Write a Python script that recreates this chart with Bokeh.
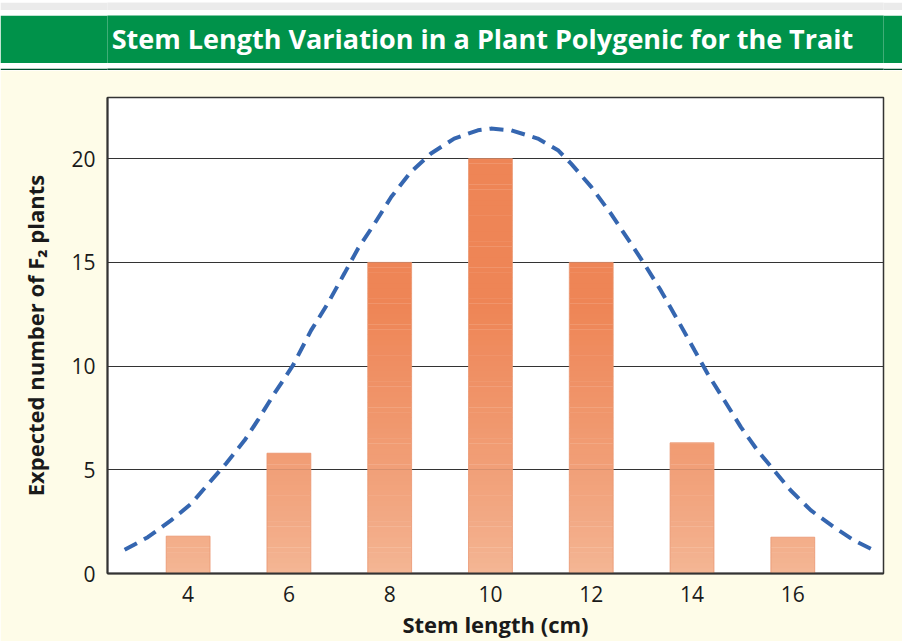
from bokeh.plotting import figure
from bokeh.layouts import column
from bokeh.models import Range1d, FixedTicker, ColumnDataSource
from bokeh.core.properties import value
from bokeh.embed import file_html
from bokeh.resources import INLINE

# ---------------- data ----------------
title_text = "Stem Length Variation in a Plant Polygenic for the Trait"
stem_length = [4, 6, 8, 10, 12, 14, 16]
expected_count = [1.8, 5.8, 15, 20, 15, 6.3, 1.75]

curve_x = [2.74, 3.20, 3.66, 4.06, 4.46, 4.75, 5.12, 5.38, 5.71, 6.08, 6.44, 6.77,
           7.10, 7.37, 7.70, 8.03, 8.42, 8.82, 9.28, 9.75, 10.01, 10.41, 10.94,
           11.34, 11.60, 12.00, 12.39, 12.79, 13.05, 13.38, 13.72, 14.05, 14.31,
           14.64, 14.97, 15.30, 15.63, 15.96, 16.36, 16.82, 17.22, 17.62]
curve_y = [1.14, 1.75, 2.56, 3.36, 4.49, 5.29, 6.42, 7.38, 8.67, 10.03, 11.72, 13.01,
           14.46, 15.66, 16.87, 18.15, 19.36, 20.25, 20.97, 21.37, 21.45, 21.37, 20.97,
           20.41, 19.76, 18.64, 17.35, 15.90, 14.94, 13.65, 12.20, 10.76, 9.63,
           8.35, 7.06, 5.93, 4.97, 4.00, 3.04, 2.23, 1.59, 1.11]

x_ticks = [4, 6, 8, 10, 12, 14, 16]
y_ticks = [0, 5, 10, 15, 20]
x_label = "Stem length (cm)"
y_label = "Expected number of F\u2082 plants"

FONT = "Open Sans"
CREAM = "#fefce8"
GREEN = "#00924a"
W = 902
BL, BR = 107, 19


def strip(h, color):
    s = figure(width=W, height=h, x_range=Range1d(BL, W - BR), y_range=Range1d(0, h),
               output_backend="svg", toolbar_location=None,
               min_border_left=BL, min_border_right=BR, min_border_top=0, min_border_bottom=0,
               x_axis_type=None, y_axis_type=None, outline_line_color=None,
               background_fill_color=color, border_fill_color=color)
    s.grid.visible = False
    return s


# ---------------- header ----------------
top_gray = strip(10, "#ebebeb")
top_light = strip(5, "#2db071")
hdr = strip(48, GREEN)
hdr.text(x=[482], y=[25], text=[title_text], text_font=value(FONT),
         text_font_style="bold", text_font_size="27px", text_color="white",
         text_align="center", text_baseline="middle")
dark_band = strip(7, "#004b2e")

MAIN_H = 641 - (10 + 5 + 48 + 7)

# ---------------- main chart ----------------
p = figure(width=W, height=MAIN_H, x_range=Range1d(2.4, 17.8), y_range=Range1d(0, 22.95),
           output_backend="svg", toolbar_location=None,
           min_border_left=BL, min_border_right=BR, min_border_top=27, min_border_bottom=68,
           background_fill_color="white", border_fill_color=CREAM)

# gradient bars, built as bands of each value
light = (244, 183, 150)
dark = (238, 133, 86)
step = 0.25
bx, bb, bt, bc = [], [], [], []
for xv, v in zip(stem_length, expected_count):
    lo = 0.0
    while lo < v:
        hi = min(lo + step, v)
        t = min(((lo + hi) / 2) / 13.0, 1.0) ** 0.8
        c = tuple(int(round(light[i] + (dark[i] - light[i]) * t)) for i in range(3))
        bx.append(xv); bb.append(lo); bt.append(hi + (0.02 if hi < v else 0))
        bc.append("#%02x%02x%02x" % c)
        lo = hi
src = ColumnDataSource(dict(x=bx, bottom=bb, top=bt, color=bc))
p.vbar(x="x", bottom="bottom", top="top", width=0.87, fill_color="color",
       line_color=None, source=src)
p.vbar(x=stem_length, bottom=0, top=expected_count, width=0.87, fill_color=None,
       line_color="#ea9670", line_width=1, line_alpha=0.8)

p.line(curve_x, curve_y, line_color="#3566b0", line_width=4, line_dash="14 8")

p.xgrid.visible = False
p.ygrid.ticker = FixedTicker(ticks=y_ticks)
p.ygrid.grid_line_color = "#333333"
p.ygrid.grid_line_width = 1.2

p.outline_line_color = "#333333"
p.outline_line_width = 1.5

p.xaxis.ticker = FixedTicker(ticks=x_ticks)
p.yaxis.ticker = FixedTicker(ticks=y_ticks)
for ax in (p.xaxis[0], p.yaxis[0]):
    ax.major_tick_line_color = None
    ax.minor_tick_line_color = None
    ax.axis_line_color = "#333333"
    ax.axis_line_width = 2
    ax.major_label_text_font = FONT
    ax.major_label_text_font_size = "21px"
    ax.major_label_text_color = "#1a1a1a"
    ax.axis_label_text_font = FONT
    ax.axis_label_text_font_style = "bold"
    ax.axis_label_text_color = "#1a1a1a"

p.xaxis.axis_label = x_label
p.yaxis.axis_label = y_label
p.xaxis.axis_label_text_font_size = "22px"
p.yaxis.axis_label_text_font_size = "22px"
p.xaxis.major_label_standoff = 6
p.xaxis.axis_label_standoff = 4
p.yaxis.major_label_standoff = 6
p.yaxis.axis_label_standoff = 18

layout = column(top_gray, top_light, hdr, dark_band, p, spacing=0)
open("out.html", "w").write(file_html(layout, INLINE))
